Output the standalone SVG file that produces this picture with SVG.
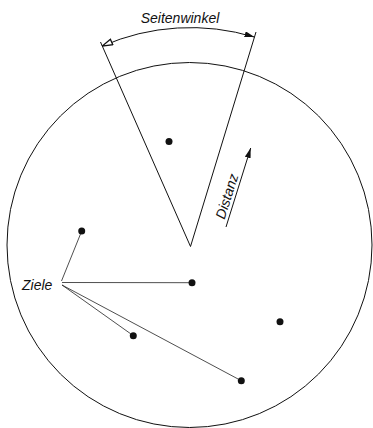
<svg xmlns="http://www.w3.org/2000/svg" width="373" height="428" viewBox="0 0 373 428">
<style>
.ln{stroke:#111;fill:none;stroke-width:1}
.thin{stroke:#222;fill:none;stroke-width:0.8}
.dot{fill:#111}
.lbl{font-family:"Liberation Sans",Arial,sans-serif;font-style:italic;font-size:14px;fill:#111}
</style>
<defs>
<marker id="ah" viewBox="0 0 10 6" refX="10" refY="3" markerWidth="10" markerHeight="6" markerUnits="userSpaceOnUse" orient="auto">
<path d="M0,0 L10,3 L0,6 Z" fill="#111"/>
</marker>
<marker id="ahOpen" viewBox="0 0 12 8" refX="0.5" refY="4" markerWidth="12" markerHeight="8" markerUnits="userSpaceOnUse" orient="auto">
<path d="M11,1 L0.8,4 L11,7 Z" fill="#fff" stroke="#111" stroke-width="1.3"/>
</marker>
</defs>
<rect width="373" height="428" fill="#fff"/>
<g id="screen">
<circle cx="189.5" cy="245" r="182.5" class="ln" stroke-width="1.3"/>
</g>
<g id="wedge">
<path d="M100.5,42 L190.5,246.5 L256,32" class="ln"/>
</g>
<g id="seitenwinkel">
<path d="M102,46.2 A220,220 0 0 1 254.5,37.1" class="ln" marker-start="url(#ahOpen)" marker-end="url(#ah)"/>
<text x="180" y="23" text-anchor="middle" class="lbl">Seitenwinkel</text>
</g>
<g id="distanz">
<line x1="226" y1="227" x2="250.7" y2="148" class="ln" marker-end="url(#ah)"/>
<text transform="translate(224.5,220) rotate(-72.5)" class="lbl">Distanz</text>
</g>
<g id="ziele">
<text x="22" y="290" class="lbl">Ziele</text>
</g>
<g id="targets">
<circle cx="169" cy="141.5" r="3.5" class="dot"/>
<circle cx="81.7" cy="231" r="3.5" class="dot"/>
<circle cx="192" cy="282.7" r="3.5" class="dot"/>
<circle cx="280" cy="321.7" r="3.5" class="dot"/>
<circle cx="133.3" cy="335.7" r="3.5" class="dot"/>
<circle cx="241.3" cy="380.7" r="3.5" class="dot"/>
</g>
<g id="connectors">
<line x1="61.5" y1="281" x2="80.5" y2="234" class="thin"/>
<line x1="62" y1="282.5" x2="189" y2="282.7" class="thin"/>
<line x1="62" y1="285" x2="131" y2="334" class="thin"/>
<line x1="62" y1="285" x2="239" y2="379.5" class="thin"/>
</g>
</svg>
